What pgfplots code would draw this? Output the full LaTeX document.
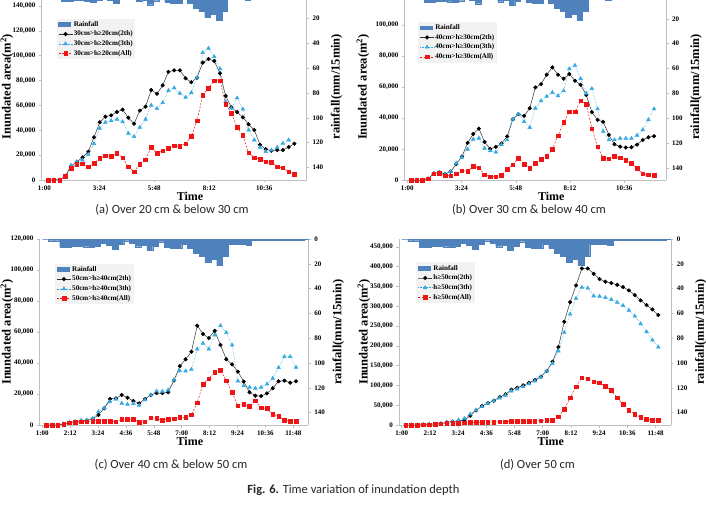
\documentclass[border=0pt]{standalone}
\usepackage{pgfplots}
\usepackage{pgfplotstable}
\pgfplotsset{compat=1.18}
\usepackage{fontspec}
\setmainfont{Liberation Serif}
\newfontfamily\capfont{Carlito}

\definecolor{rainblue}{HTML}{4F81BD}
\definecolor{skyline}{HTML}{35A9E1}
\definecolor{redline}{HTML}{F01414}
\definecolor{axgray}{HTML}{BFBFBF}
\definecolor{legfill}{HTML}{F2F2F2}

% rainfall per 15-minute interval (mm); interval n starts at 1:00 + 15n min
\pgfplotstableread{
n rain
0 0
1 1.3
2 1.3
3 6.5
4 6.5
5 5.6
6 5.6
7 6.2
8 6.8
9 5.5
10 3.1
11 5.2
12 7.9
13 4.2
14 1.3
15 3.1
16 6.2
17 5.2
18 9.0
19 5.8
20 2.2
21 6.8
22 7.6
23 7.6
24 4.3
25 7.5
26 11.5
27 14.0
28 19.0
29 16.3
30 21.4
31 14.0
32 4.5
33 4.5
34 4.5
35 5.2
36 0.7
37 0.7
38 1.0
39 1.2
40 1.2
41 0.7
42 0.7
43 1.0
44 0.5
45 0.3
46 0
}\rainfall

% inundated area (m^2), sample n taken at 1:10 + 15n min
\pgfplotstableread{
n black cyan red
0 0 0 0
1 0 0 0
2 0 0 0
3 3200 3200 3200
4 11300 11800 9400
5 14500 14700 12600
6 18200 16100 13100
7 22800 20600 10700
8 34300 29200 13700
9 46400 41600 17400
10 50900 46400 19600
11 52000 47700 19300
12 54700 48800 21400
13 56600 46900 18000
14 50100 37500 10500
15 45300 34900 6700
16 55800 42400 12900
17 59000 48800 16400
18 72400 60100 26300
19 69400 57400 21400
20 76100 62200 23600
21 87000 72000 25500
22 88200 74100 27600
23 88200 69700 27100
24 81800 66500 29200
25 78600 70200 35100
26 82300 82300 47700
27 94400 102400 68100
28 97300 105900 74000
29 95700 99200 79900
30 85800 89500 79900
31 67600 63000 61100
32 58400 57600 53900
33 54700 66000 42400
34 50400 57100 35900
35 44800 40200 22000
36 40200 32200 18000
37 28400 26300 16900
38 24700 22800 14700
39 23600 24100 14200
40 24100 26300 10500
41 24100 29500 9700
42 26500 32200 6700
43 29200 nan 4800
}\depthA

\pgfplotstableread{
n black cyan red
0 0 0 0
1 0 0 0
2 0 0 0
3 1000 1000 1000
4 4500 4500 4100
5 5200 5000 4500
6 4000 4000 3000
7 5600 5600 3000
8 10500 11000 4300
9 15300 14800 6200
10 24100 20000 5800
11 29800 26400 9000
12 33300 27100 8000
13 24700 20600 3700
14 20200 18900 2400
15 21500 18100 2400
16 23700 23000 3200
17 28200 26000 7100
18 39300 39300 10100
19 42600 42600 14200
20 41500 37800 10500
21 46400 34000 7850
22 59800 46400 11000
23 61900 51200 13500
24 68000 54000 15300
25 72700 56500 20000
26 68000 54400 28800
27 65400 57600 37200
28 68400 71800 44100
29 64100 74000 44100
30 61500 65400 51200
31 55000 56000 49000
32 43900 59000 33300
33 38900 46000 21700
34 37600 31500 14200
35 29200 26000 13800
36 23200 26000 15300
37 21700 27000 14600
38 21100 27000 13100
39 21300 27000 11000
40 23000 29000 7700
41 26000 32500 4100
42 27700 39000 3700
43 28400 46000 3400
}\depthB

\pgfplotstableread{
n black cyan red
0 0 0 0
1 0 0 0
2 0 0 0
3 600 600 400
4 1500 1500 1500
5 2100 2100 1700
6 2800 2800 2100
7 3000 3000 2100
8 3900 4300 2600
9 6500 8600 2600
10 10800 11000 2600
11 16800 15000 2600
12 17200 16800 2100
13 19400 14000 3700
14 17600 13300 3700
15 15500 13800 3900
16 14000 12700 1700
17 16800 16300 2100
18 19400 19400 4700
19 20600 21900 4300
20 20600 21700 3200
21 21100 22600 3700
22 28800 29000 4100
23 38000 35000 4900
24 42400 34800 4900
25 47300 35900 6500
26 64100 49000 14400
27 58700 52700 26400
28 56100 49000 29900
29 60800 58000 34200
30 51600 64100 35500
31 42400 59600 28600
32 39100 51600 21000
33 34400 28400 12500
34 28000 25200 13300
35 21100 24300 12000
36 18900 23700 15700
37 18700 24300 11200
38 20400 26400 10700
39 23700 30100 6900
40 28200 37000 5800
41 28600 44100 3200
42 27300 44100 2400
43 28200 37200 2400
}\depthC

\pgfplotstableread{
n black cyan red
0 0 0 0
1 0 0 0
2 0 0 0
3 1000 1000 500
4 1700 1700 800
5 2500 2500 2500
6 3400 3400 3400
7 6700 6700 4200
8 8400 8400 5000
9 10100 12600 5000
10 12600 16800 5900
11 23600 27800 6700
12 37000 37900 6700
13 48000 46300 6700
14 55600 55000 6700
15 61400 61000 7600
16 70700 68000 8400
17 77400 75000 8400
18 89200 86000 10100
19 94300 91000 10100
20 100200 97000 10100
21 106900 104000 10100
22 113600 111000 10100
23 122100 121000 11000
24 136400 136000 11800
25 159900 156000 12600
26 197000 187000 21000
27 261000 234000 39600
28 310600 280000 69000
29 352700 320000 96800
30 395600 348000 119500
31 395600 346000 117000
32 382100 326000 109400
33 368700 325000 106900
34 362000 322000 97600
35 358600 317000 87500
36 354400 310000 69000
37 348500 302000 52200
38 340100 290000 37900
39 328300 275000 27800
40 314800 255900 19400
41 303000 235700 14300
42 292100 214600 12600
43 277800 197000 12600
}\depthD

\pgfplotsset{
  legend image code/.code={%
    \draw[mark repeat=2,mark phase=2,#1] plot coordinates {(0pt,0pt) (7pt,0pt) (14pt,0pt)};},
  base/.style={
    scale only axis, anchor=south west,
    xmin=0.875, xmax=12.45,
    axis line style={axgray, line width=0.6pt},
    tick style={axgray, line width=0.5pt},
    tick align=outside, major tick length=2.5pt,
    ticklabel style={font=\bfseries\fontsize{7}{8}\selectfont, text=black},
    /pgf/number format/fixed,
    /pgf/number format/assume math mode=true,
    /pgf/number format/1000 sep={,},
    scaled y ticks=false,
  },
  main/.style={base,
    axis x line*=bottom, axis y line*=left, ymin=0,
    every axis x label/.style={at={(rel axis cs:0.5,0)}, anchor=center,
      xshift=16pt, yshift=-16.5pt, font=\bfseries\fontsize{12}{14}\selectfont},
    xlabel={Time},
    ylabel={Inundated area(m\textsuperscript{2})},
    legend cell align=left,
    legend style={fill=legfill, draw=none, anchor=north west,
      font=\bfseries\fontsize{7.1}{8}\selectfont, inner sep=1.5pt, row sep=1pt,
      nodes={inner sep=1pt, text height=5.2pt, text depth=1.5pt}},
  },
  leftlab/.style={every axis y label/.style={at={(rel axis cs:0,0.5)}, anchor=center,
      xshift=-#1, rotate=90, font=\bfseries\fontsize{12.5}{14}\selectfont}},
  rainaxis/.style={base,
    hide x axis, axis y line*=right,
    ymin=0, ymax=150, y dir=reverse, ytick={0,20,...,140},
    every axis y label/.style={at={(rel axis cs:1,0.5)}, anchor=center,
      xshift=30pt, rotate=90, font=\bfseries\fontsize{12.5}{14}\selectfont},
    ylabel={rainfall(mm/15min)},
  },
  rainbars/.style={ybar interval, fill=rainblue, draw=rainblue, line width=0.2pt},
  s2th/.style={color=black!80, line width=0.5pt, mark=*, mark size=1.8pt,
    mark options={solid, fill=black, draw=black}},
  s3th/.style={color=skyline, line width=0.5pt, densely dotted, mark=triangle*,
    mark size=2.1pt, mark options={solid, fill=skyline, draw=skyline}},
  sall/.style={color=redline, line width=0.5pt, dash pattern=on 2pt off 1.5pt,
    mark=square*, mark size=1.8pt, mark options={solid, fill=redline, draw=redline}},
  rainleg/.style={legend image code/.code={\fill[rainblue] (0pt,-1.8pt) rectangle (12pt,1.8pt);}},
  xA/.style={xtick={1,3.4,5.8,8.2,10.6}, xticklabels={1:00,3:24,5:48,8:12,10:36}},
  xC/.style={xtick={1,2.2,3.4,4.6,5.8,7,8.2,9.4,10.6,11.8},
    xticklabels={1:00,2:12,3:24,4:36,5:48,7:00,8:12,9:24,10:36,11:48}},
}

\begin{document}
\begin{tikzpicture}
\clip (0pt,0pt) rectangle (706pt,517pt);
\fill[white] (0pt,0pt) rectangle (706pt,517pt);

% ---------------- (a) 20-30 cm ----------------
\begin{axis}[rainaxis, ytick={20,40,...,140}, at={(41.5pt,337pt)}, width=265.1pt, height=186.5pt]
  \addplot[rainbars] table[x expr=1+\thisrow{n}/4, y=rain] {\rainfall};
\end{axis}
\begin{axis}[main, leftlab=34.5pt, xA, at={(41.5pt,337pt)}, width=265.1pt, height=186.5pt,
    ymax=150000, ytick={0,20000,...,140000},
    legend style={at={(0.057,0.867)}}]
  \addlegendimage{rainleg}\addlegendentry{Rainfall}
  \addplot[s2th] table[x expr=1+1/6+\thisrow{n}/4, y=black] {\depthA};
  \addlegendentry{30cm>h≥20cm(2th)}
  \addplot[s3th] table[x expr=1+1/6+\thisrow{n}/4, y=cyan] {\depthA};
  \addlegendentry{30cm>h≥20cm(3th)}
  \addplot[sall] table[x expr=1+1/6+\thisrow{n}/4, y=red] {\depthA};
  \addlegendentry{30cm>h≥20cm(All)}
\end{axis}

% ---------------- (b) 30-40 cm ----------------
\begin{axis}[rainaxis, ytick={20,40,...,140}, at={(404.5pt,336.7pt)}, width=261.6pt, height=186.4pt]
  \addplot[rainbars] table[x expr=1+\thisrow{n}/4, y=rain] {\rainfall};
\end{axis}
\begin{axis}[main, leftlab=41.5pt, xA, at={(404.5pt,336.7pt)}, width=261.6pt, height=186.4pt,
    ymax=120000, ytick={0,20000,...,100000},
    legend style={at={(0.052,0.851)}}]
  \addlegendimage{rainleg}\addlegendentry{Rainfall}
  \addplot[s2th] table[x expr=1+1/6+\thisrow{n}/4, y=black] {\depthB};
  \addlegendentry{40cm>h≥30cm(2th)}
  \addplot[s3th] table[x expr=1+1/6+\thisrow{n}/4, y=cyan] {\depthB};
  \addlegendentry{40cm>h≥30cm(3th)}
  \addplot[sall] table[x expr=1+1/6+\thisrow{n}/4, y=red] {\depthB};
  \addlegendentry{40cm>h≥30cm(All)}
\end{axis}

% ---------------- (c) 40-50 cm ----------------
\begin{axis}[rainaxis, at={(39.4pt,92pt)}, width=269pt, height=186pt]
  \addplot[rainbars] table[x expr=1+\thisrow{n}/4, y=rain] {\rainfall};
\end{axis}
\begin{axis}[main, leftlab=32.4pt, xC, at={(39.4pt,92pt)}, width=269pt, height=186pt,
    ymax=120000, ytick={0,20000,...,120000},
    legend style={at={(0.058,0.869)}}]
  \addlegendimage{rainleg}\addlegendentry{Rainfall}
  \addplot[s2th] table[x expr=1+1/6+\thisrow{n}/4, y=black] {\depthC};
  \addlegendentry{50cm>h≥40cm(2th)}
  \addplot[s3th] table[x expr=1+1/6+\thisrow{n}/4, y=cyan] {\depthC};
  \addlegendentry{50cm>h≥40cm(3th)}
  \addplot[sall] table[x expr=1+1/6+\thisrow{n}/4, y=red] {\depthC};
  \addlegendentry{50cm>h≥40cm(All)}
\end{axis}

% ---------------- (d) over 50 cm ----------------
\begin{axis}[rainaxis, at={(398.8pt,92pt)}, width=272pt, height=186pt]
  \addplot[rainbars] table[x expr=1+\thisrow{n}/4, y=rain] {\rainfall};
\end{axis}
\begin{axis}[main, leftlab=34.8pt, xC, at={(398.8pt,92pt)}, width=272pt, height=186pt,
    ymax=470000, ytick={0,50000,...,450000},
    legend style={at={(0.064,0.875)}}]
  \addlegendimage{rainleg}\addlegendentry{Rainfall}
  \addplot[s2th] table[x expr=1+1/6+\thisrow{n}/4, y=black] {\depthD};
  \addlegendentry{h≥50cm(2th)}
  \addplot[s3th] table[x expr=1+1/6+\thisrow{n}/4, y=cyan] {\depthD};
  \addlegendentry{h≥50cm(3th)}
  \addplot[sall] table[x expr=1+1/6+\thisrow{n}/4, y=red] {\depthD};
  \addlegendentry{h≥50cm(All)}
\end{axis}

% ---------------- captions ----------------
\begin{scope}[every node/.style={font=\capfont\fontsize{12.5}{14}\selectfont, text=black!85}]
  \node at (172pt,307pt) {(a) Over 20 cm \& below 30 cm};
  \node at (529pt,307pt) {(b) Over 30 cm \& below 40 cm};
  \node at (171pt,52pt) {(c) Over 40 cm \& below 50 cm};
  \node at (537.5pt,52pt) {(d) Over 50 cm};
  \node at (353.5pt,27pt) {\textbf{Fig. 6.} Time variation of inundation depth};
\end{scope}
\end{tikzpicture}
\end{document}
